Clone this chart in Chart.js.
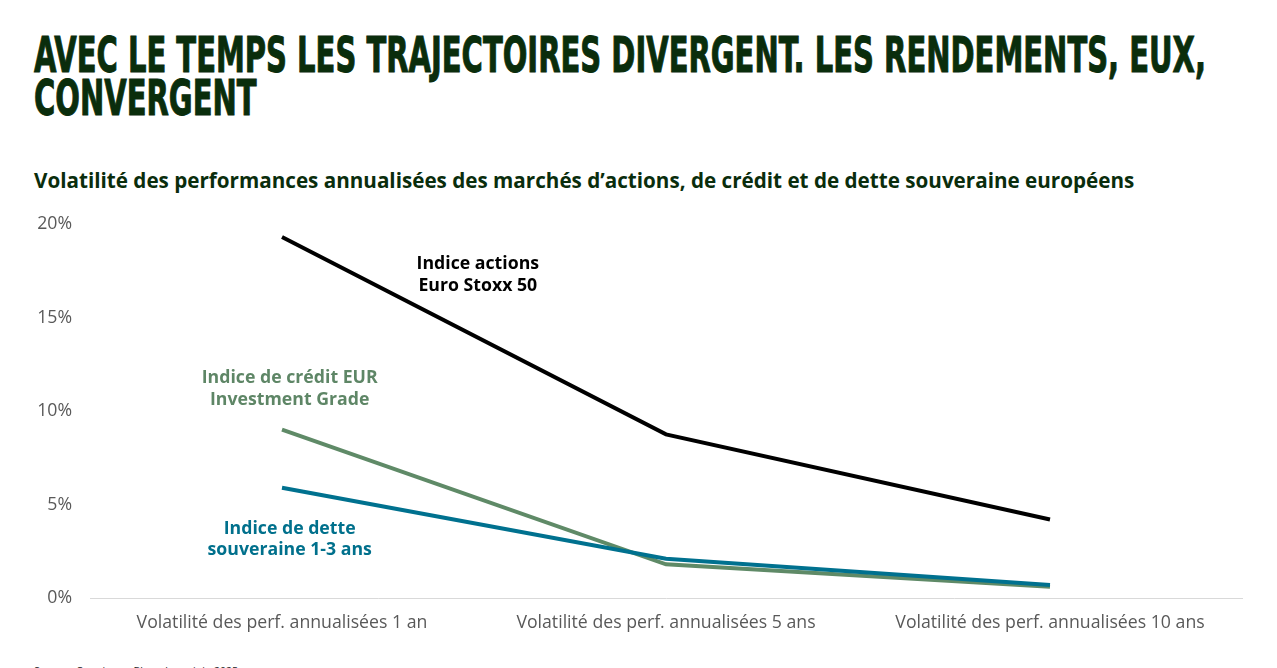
<!DOCTYPE html>
<html>
<head>
<meta charset="utf-8">
<script src="https://cdn.jsdelivr.net/npm/chart.js@4.4.1/dist/chart.umd.min.js"></script>
<style>
  body { margin: 0; background: #fff; width: 1277px; height: 668px; overflow: hidden; position: relative; }
  .title { position: absolute; left: 34px; top: 34px; color: #0a2d0c; font-family: "Liberation Sans Narrow", "DejaVu Sans Condensed", sans-serif; font-weight: bold; font-size: 49px; line-height: 43px; white-space: nowrap; -webkit-text-stroke: 1px #0a2d0c; }
  .title span { display: inline-block; transform-origin: left top; }
  .subtitle { position: absolute; left: 34px; top: 166px; color: #0a2d0c; font-family: "Open Sans", sans-serif; font-weight: bold; font-size: 20.65px; white-space: nowrap; }
  .source { position: absolute; left: 34px; top: 664px; color: #222; font-family: "Open Sans", sans-serif; font-size: 10.5px; line-height: 14px; white-space: nowrap; }
  #wrap { position: absolute; left: 0; top: 200px; width: 1277px; height: 440px; }
</style>
</head>
<body>
<div class="title"><span id="t1">AVEC LE TEMPS LES TRAJECTOIRES DIVERGENT. LES RENDEMENTS, EUX,</span><br><span id="t2">CONVERGENT</span></div>
<div class="subtitle">Volatilité des performances annualisées des marchés d’actions, de crédit et de dette souveraine européens</div>
<div id="wrap"><canvas id="chart"></canvas></div>
<div class="source">Source : Carmignac, Bloomberg, juin 2025</div>
<script>
// data
const categories = ['Volatilité des perf. annualisées 1 an', 'Volatilité des perf. annualisées 5 ans', 'Volatilité des perf. annualisées 10 ans'];
const actions = [19.3, 8.75, 4.2];
const souveraine = [5.9, 2.1, 0.7];
const credit = [9.0, 1.8, 0.6];
const yTicks = [0, 5, 10, 15, 20];

// labels next to the lines (x = category index, y = value in %)
const notes = [
    { lines: ['Indice actions', 'Euro Stoxx 50'], x: 0.51, y: [17.85, 16.7], color: '#000000' },
    { lines: ['Indice de crédit EUR', 'Investment Grade'], x: 0.02, y: [11.75, 10.6], color: '#5e8666' },
    { lines: ['Indice de dette', 'souveraine 1-3 ans'], x: 0.02, y: [3.7, 2.55], color: '#00708c' }
];

// squeeze title to the width of the condensed font in the original
const t1 = document.getElementById('t1');
const t2 = document.getElementById('t2');
const sx = 1172 / t1.getBoundingClientRect().width;
t1.style.transform = 'scaleX(' + sx + ')';
t2.style.transform = 'scaleX(' + sx + ')';

const notePlugin = {
    id: 'notes',
    afterDatasetsDraw(chart) {
        const c = chart.ctx;
        const xs = chart.scales.x, ys = chart.scales.y;
        c.save();
        c.font = 'bold 17.7px "Open Sans"';
        c.textAlign = 'center';
        c.textBaseline = 'middle';
        notes.forEach(n => {
            c.fillStyle = n.color;
            n.lines.forEach((t, i) => {
                c.fillText(t, xs.getPixelForValue(n.x), ys.getPixelForValue(n.y[i]));
            });
        });
        c.restore();
    }
};

const tickFont = { family: 'Open Sans', size: 17.7 };

new Chart(document.getElementById('chart'), {
    type: 'line',
    data: {
        labels: categories,
        datasets: [
            { label: 'Indice actions Euro Stoxx 50', data: actions, borderColor: '#000000', borderWidth: 4, pointRadius: 0, fill: false },
            { label: 'Indice de dette souveraine 1-3 ans', data: souveraine, borderColor: '#00718f', borderWidth: 4, pointRadius: 0, fill: false },
            { label: 'Indice de crédit EUR Investment Grade', data: credit, borderColor: '#5f8a67', borderWidth: 4, pointRadius: 0, fill: false }
        ]
    },
    options: {
        responsive: true,
        maintainAspectRatio: false,
        animation: false,
        layout: { padding: { top: 24, right: 35, left: 0, bottom: 0 } },
        plugins: { legend: { display: false }, tooltip: { enabled: false } },
        scales: {
            x: {
                offset: true,
                grid: { display: false, drawTicks: false },
                border: { display: true, color: '#d9d9d9', width: 1 },
                ticks: { color: '#595959', font: tickFont, padding: 14, maxRotation: 0 },
                afterFit(s) { s.height = 42; }
            },
            y: {
                min: 0,
                max: 20,
                afterBuildTicks(s) { s.ticks = yTicks.map(v => ({ value: v })); },
                grid: { display: false, drawTicks: false },
                border: { display: false },
                ticks: { color: '#595959', font: tickFont, padding: 18, callback: v => v + '%' },
                afterFit(s) { s.width = 90; s.paddingTop = 0; s.paddingBottom = 0; }
            }
        }
    },
    plugins: [notePlugin]
});
</script>
</body>
</html>
